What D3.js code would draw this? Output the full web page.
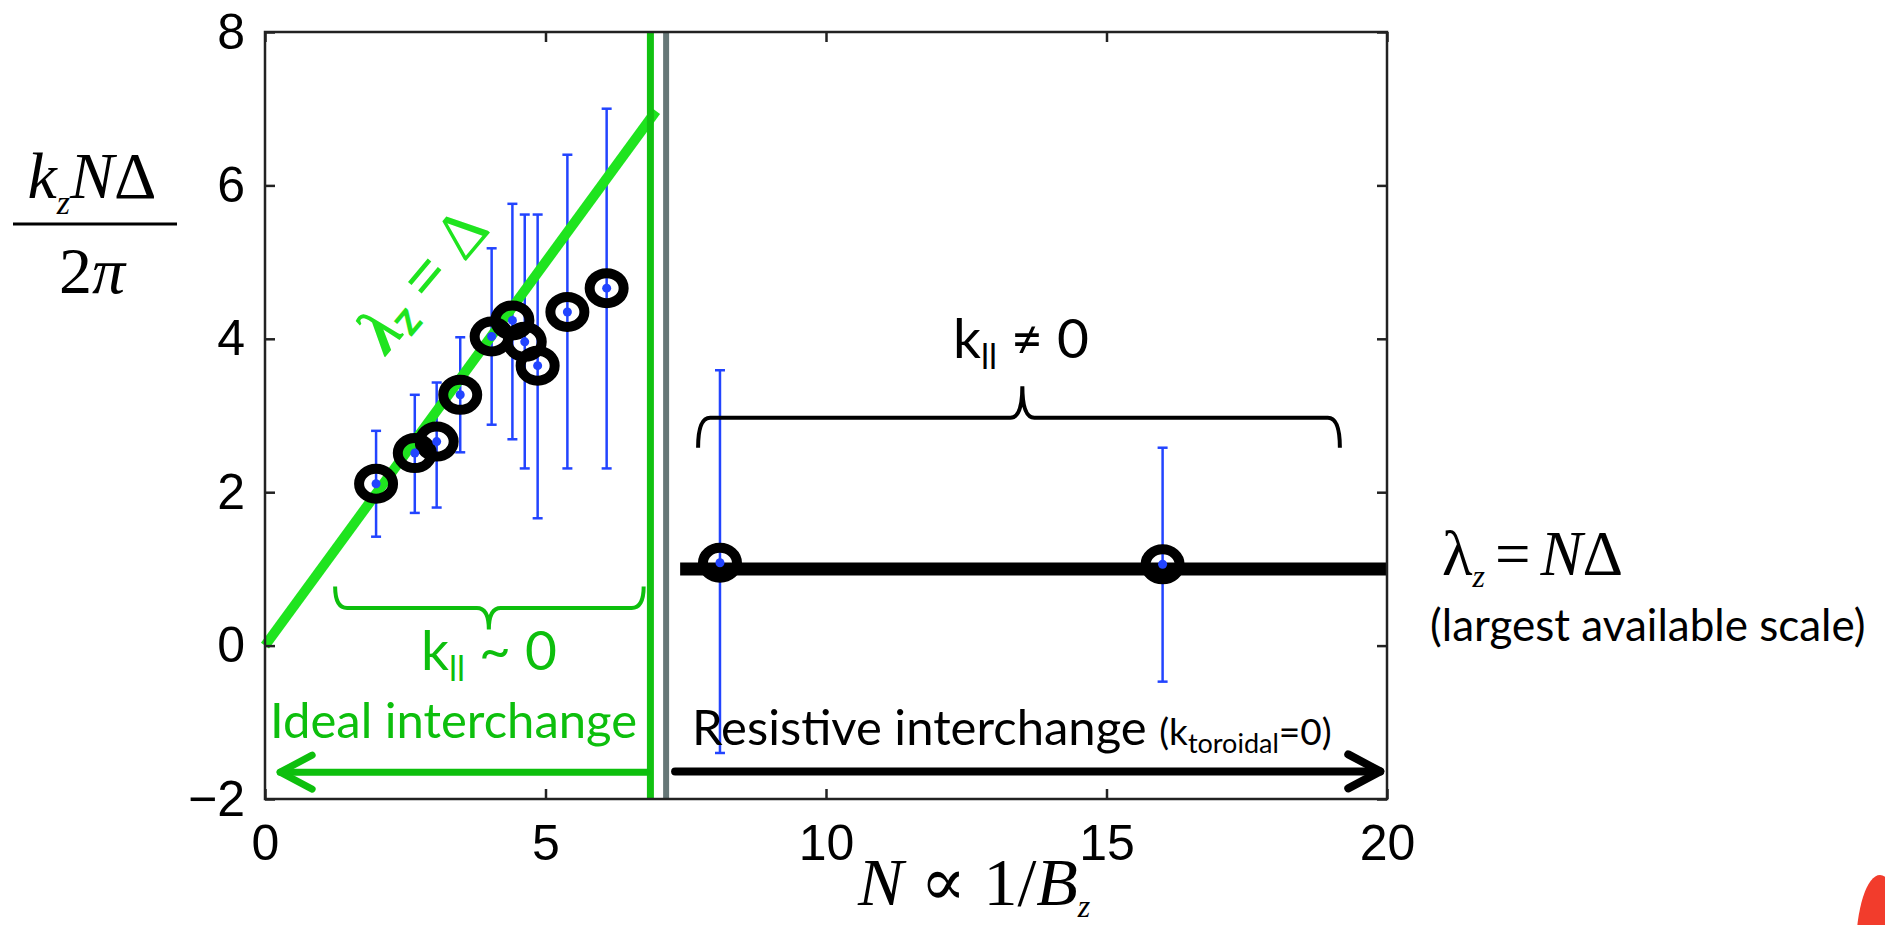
<!DOCTYPE html>
<html>
<meta charset="utf-8">
<style>
  body { margin: 0; background: #fff; }
  svg { display: block; }
</style>
<body>
<div id="chart"></div>
<script src="https://cdn.jsdelivr.net/npm/d3@7"></script>
<script>
"use strict";

// measured points: N, k_z N Delta / 2pi, and the error bar ends
var nVals = [1.98, 2.67, 3.06, 3.48, 4.04, 4.41, 4.63, 4.86, 5.39, 6.09, 8.11, 16.0];
var kVals = [2.11, 2.51, 2.66, 3.27, 4.03, 4.24, 3.96, 3.65, 4.35, 4.66, 1.08, 1.06];
var errLo = [1.42, 1.73, 1.80, 2.52, 2.88, 2.69, 2.31, 1.66, 2.31, 2.31, -1.40, -0.47];
var errHi = [2.80, 3.27, 3.43, 4.02, 5.18, 5.76, 5.62, 5.62, 6.40, 7.00, 3.59, 2.58];

var xTicks = [0, 5, 10, 15, 20];
var yTicks = [-2, 0, 2, 4, 6, 8];

// guide lines (data units)
var idealX = [0, 6.97];          // lambda_z = Delta
var idealY = [0, 6.97];
var resistX = [7.4, 20];         // lambda_z = N Delta
var resistY = [1, 1];
var greenBoundary = 6.87;
var grayBoundary = 7.15;

var W = 1885, H = 925;
var svg = d3.select("#chart").append("svg")
    .attr("width", W).attr("height", H);

var x = d3.scaleLinear().domain([0, 20]).range([265, 1387]);
var y = d3.scaleLinear().domain([-2, 8]).range([799, 32]);

var pts = nVals.map(function (n, i) {
  return { n: n, k: kVals[i], lo: errLo[i], hi: errHi[i] };
});

var green = "#0dbf0d", lime = "#1fe41f", blue = "#2244ff";
var sans = "Lato, 'Open Sans', sans-serif";
var serif = "'Liberation Serif', 'DejaVu Serif', serif";

// error bars
var eb = svg.append("g").attr("stroke", blue).attr("stroke-width", 2.5);
eb.selectAll("line.bar").data(pts).enter().append("line")
    .attr("x1", function (d) { return x(d.n); })
    .attr("x2", function (d) { return x(d.n); })
    .attr("y1", function (d) { return y(d.lo); })
    .attr("y2", function (d) { return y(d.hi); });
["lo", "hi"].forEach(function (k) {
  eb.selectAll("line.cap" + k).data(pts).enter().append("line")
      .attr("x1", function (d) { return x(d.n) - 5; })
      .attr("x2", function (d) { return x(d.n) + 5; })
      .attr("y1", function (d) { return y(d[k]); })
      .attr("y2", function (d) { return y(d[k]); });
});

// lambda_z = Delta line
var line = d3.line().x(function (d) { return x(d[0]); }).y(function (d) { return y(d[1]); });
svg.append("path")
    .attr("d", line(d3.zip(idealX, idealY)))
    .attr("stroke", lime).attr("stroke-width", 10).attr("fill", "none");

// lambda_z = N Delta line
svg.append("path")
    .attr("d", line(d3.zip(resistX, resistY)))
    .attr("stroke", "#000").attr("stroke-width", 13).attr("fill", "none");

// circles and centre dots
svg.append("g").selectAll("ellipse").data(pts).enter().append("ellipse")
    .attr("cx", function (d) { return x(d.n); })
    .attr("cy", function (d) { return y(d.k); })
    .attr("rx", 17).attr("ry", 15)
    .attr("fill", "none").attr("stroke", "#000").attr("stroke-width", 10);
svg.append("g").selectAll("circle").data(pts).enter().append("circle")
    .attr("cx", function (d) { return x(d.n); })
    .attr("cy", function (d) { return y(d.k); })
    .attr("r", 4.5).attr("fill", blue);

// boundaries
svg.append("line")
    .attr("x1", x(greenBoundary)).attr("x2", x(greenBoundary))
    .attr("y1", y(8)).attr("y2", y(-2))
    .attr("stroke", "#11c211").attr("stroke-width", 7);
svg.append("line")
    .attr("x1", x(grayBoundary)).attr("x2", x(grayBoundary))
    .attr("y1", y(8)).attr("y2", y(-2))
    .attr("stroke", "#667777").attr("stroke-width", 6);

// frame and ticks
svg.append("rect")
    .attr("x", x(0)).attr("y", y(8))
    .attr("width", x(20) - x(0)).attr("height", y(-2) - y(8))
    .attr("fill", "none").attr("stroke", "#222").attr("stroke-width", 2.5);

function styleAxis(g) {
  g.select(".domain").remove();
  g.attr("font-size", 50).attr("font-family", "'Liberation Sans', Arial, sans-serif");
  g.selectAll("line").attr("stroke", "#222").attr("stroke-width", 2.5);
  g.selectAll("text").attr("fill", "#000");
}
svg.append("g").attr("transform", "translate(0," + y(-2) + ")")
    .call(d3.axisBottom(x).tickValues(xTicks).tickSize(-10).tickSizeOuter(0).tickPadding(25))
    .call(styleAxis);
svg.append("g").attr("transform", "translate(0," + y(8) + ")")
    .call(d3.axisTop(x).tickValues(xTicks).tickSize(-10).tickSizeOuter(0).tickFormat(""))
    .call(styleAxis);
svg.append("g").attr("transform", "translate(" + x(0) + ",0)")
    .call(d3.axisLeft(y).tickValues(yTicks).tickSize(-10).tickSizeOuter(0).tickPadding(20))
    .call(styleAxis);
svg.append("g").attr("transform", "translate(" + x(20) + ",0)")
    .call(d3.axisRight(y).tickValues(yTicks).tickSize(-10).tickSizeOuter(0).tickFormat(""))
    .call(styleAxis);

// braces
function brace(x1, x2, xm, yEnd, yBar, yTip) {
  var r = 12;
  return "M" + x1 + "," + yEnd + " Q" + x1 + "," + yBar + " " + (x1 + r) + "," + yBar +
    " L" + (xm - r) + "," + yBar + " Q" + xm + "," + yBar + " " + xm + "," + yTip +
    " Q" + xm + "," + yBar + " " + (xm + r) + "," + yBar +
    " L" + (x2 - r) + "," + yBar + " Q" + x2 + "," + yBar + " " + x2 + "," + yEnd;
}
svg.append("path").attr("d", brace(x(7.72), x(19.16), x(13.5), y(2.58), y(2.97), y(3.38)))
    .attr("fill", "none").attr("stroke", "#000").attr("stroke-width", 4);
svg.append("path").attr("d", brace(x(1.25), x(6.75), x(3.99), y(0.77), y(0.49), y(0.21)))
    .attr("fill", "none").attr("stroke", green).attr("stroke-width", 4);

// arrows
function arrow(x1, x2, yy, col, sw) {
  var dir = Math.sign(x2 - x1), g = svg.append("g")
      .attr("stroke", col).attr("stroke-width", sw).attr("fill", "none")
      .attr("stroke-linecap", "round").attr("stroke-linejoin", "round");
  g.append("line").attr("x1", x1).attr("x2", x2).attr("y1", yy).attr("y2", yy);
  g.append("path").attr("d", "M" + (x2 - dir * 32) + "," + (yy - 17) + " L" + x2 + "," + yy +
      " L" + (x2 - dir * 32) + "," + (yy + 17));
}
arrow(x(6.81), x(0.27), y(-1.65), green, 7);
arrow(x(7.31), x(19.88), y(-1.64), "#000", 8);

// annotations
svg.append("text").attr("x", 270).attr("y", 738)
    .attr("font-family", sans).attr("font-size", 49).attr("fill", green)
    .text("Ideal interchange");

var kg = svg.append("text").attr("x", 489).attr("y", 670).attr("text-anchor", "middle")
    .attr("font-family", sans).attr("font-size", 55).attr("fill", green);
kg.append("tspan").text("k");
kg.append("tspan").attr("font-size", 34).attr("dy", 11).text("ll");
kg.append("tspan").attr("dy", -11).text(" ~ 0");

var kb = svg.append("text").attr("x", 1021).attr("y", 358).attr("text-anchor", "middle")
    .attr("font-family", sans).attr("font-size", 55).attr("fill", "#000");
kb.append("tspan").text("k");
kb.append("tspan").attr("font-size", 34).attr("dy", 11).text("ll");
kb.append("tspan").attr("dy", -11).text(" \u2260 0");

var rt = svg.append("text").attr("x", 692).attr("y", 745)
    .attr("font-family", sans).attr("font-size", 49).attr("fill", "#000");
rt.append("tspan").text("Resistive interchange ");
rt.append("tspan").attr("font-size", 37).text("(k");
rt.append("tspan").attr("font-size", 27).attr("dy", 8).text("toroidal");
rt.append("tspan").attr("font-size", 37).attr("dy", -8).text("=0)");

var lz = svg.append("text")
    .attr("transform", "translate(439,293) rotate(-50)")
    .attr("text-anchor", "middle")
    .attr("font-family", serif).attr("font-size", 66).attr("font-weight", "bold").attr("fill", lime);
lz.append("tspan").attr("font-style", "italic").text("\u03bb");
lz.append("tspan").attr("font-family", sans).attr("font-size", 46).attr("dy", 7).text("z");
lz.append("tspan").attr("dy", -7).text(" = ");
lz.append("tspan").attr("font-weight", "normal").text("\u0394");

// y axis label (fraction)
var num = svg.append("text").attr("x", 92).attr("y", 198).attr("text-anchor", "middle")
    .attr("font-family", serif).attr("font-size", 66).attr("fill", "#000");
num.append("tspan").attr("font-style", "italic").text("k");
num.append("tspan").attr("font-style", "italic").attr("font-size", 34).attr("dy", 16).text("z");
num.append("tspan").attr("font-style", "italic").attr("dy", -16).text("N");
num.append("tspan").text("\u0394");
svg.append("line").attr("x1", 13).attr("x2", 177).attr("y1", 224).attr("y2", 224)
    .attr("stroke", "#000").attr("stroke-width", 3);
var den = svg.append("text").attr("x", 92).attr("y", 293).attr("text-anchor", "middle")
    .attr("font-family", serif).attr("font-size", 66).attr("fill", "#000");
den.append("tspan").text("2");
den.append("tspan").attr("font-style", "italic").text("\u03c0");

// x axis label
var xl = svg.append("text").attr("x", 858).attr("y", 905)
    .attr("font-family", serif).attr("font-size", 68).attr("fill", "#000");
xl.append("tspan").attr("font-style", "italic").text("N");
xl.append("tspan").text(" \u221d 1/");
xl.append("tspan").attr("font-style", "italic").text("B");
xl.append("tspan").attr("font-style", "italic").attr("font-size", 32).attr("dy", 12).text("z");

// right annotation
var rl = svg.append("text").attr("x", 1442).attr("y", 575)
    .attr("font-family", serif).attr("font-size", 63).attr("fill", "#000");
rl.append("tspan").text("\u03bb");
rl.append("tspan").attr("font-style", "italic").attr("font-size", 32).attr("dy", 12).text("z");
rl.append("tspan").attr("dy", -12).attr("dx", 10).text("=");
rl.append("tspan").attr("dx", 10).attr("font-style", "italic").text("N");
rl.append("tspan").text("\u0394");
svg.append("text").attr("x", 1430).attr("y", 641)
    .attr("font-family", sans).attr("font-size", 44).attr("fill", "#000")
    .text("(largest available scale)");

// red shape at the corner of the slide
svg.append("ellipse").attr("cx", 1880).attr("cy", 950).attr("rx", 24).attr("ry", 75)
    .attr("fill", "#f23c2c");
</script>
</body>
</html>
